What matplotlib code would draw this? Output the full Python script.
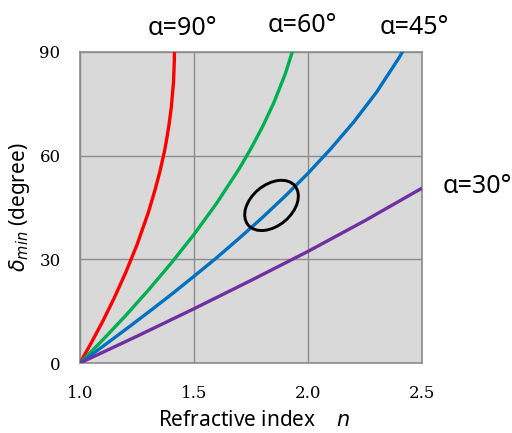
import matplotlib
matplotlib.use("Agg")
import matplotlib.pyplot as plt
from matplotlib.patches import Ellipse
from matplotlib.transforms import ScaledTranslation

# Data (minimum deviation vs refractive index)
n_90 = [1.0, 1.05, 1.1, 1.15, 1.2, 1.25, 1.3, 1.33, 1.35, 1.37, 1.38, 1.39, 1.40, 1.41, 1.414, 1.4142]
d_90 = [0.0, 5.9, 12.1, 18.8, 26.1, 34.2, 43.6, 50.3, 55.3, 61.1, 64.7, 68.8, 73.7, 81.2, 88.0, 90.5]

n_60 = [1.0, 1.1, 1.2, 1.3, 1.4, 1.5, 1.6, 1.7, 1.75, 1.8, 1.85, 1.9, 1.94]
d_60 = [0.0, 6.7, 13.7, 21.1, 28.9, 37.2, 46.3, 56.4, 62.1, 68.3, 75.3, 83.6, 91.9]

n_45 = [1.0, 1.1, 1.2, 1.3, 1.4, 1.5, 1.6, 1.7, 1.8, 1.9, 2.0, 2.1, 2.2, 2.3, 2.4, 2.42]
d_45 = [0.0, 4.8, 9.7, 14.7, 19.8, 25.1, 30.5, 36.2, 42.1, 48.3, 54.9, 62.0, 69.7, 78.3, 88.4, 90.7]

n_30 = [1.0, 1.25, 1.5, 1.75, 2.0, 2.25, 2.5]
d_30 = [0.0, 7.75, 15.7, 23.9, 32.3, 41.2, 50.6]

x_ticks = [1.0, 1.5, 2.0, 2.5]
x_ticklabels = ["1.0", "1.5", "2.0", "2.5"]
y_ticks = [0, 30, 60, 90]
y_ticklabels = ["0", "30", "60", "90"]

curve_labels = ["α=90°", "α=60°", "α=45°", "α=30°"]

fig = plt.figure(figsize=(5.12, 4.33), dpi=100)
ax = fig.add_axes([80/512, 1-363/433, 342/512, 311/433])
ax.set_facecolor("#d9d9d9")

lw = 2.4
ax.plot(n_90, d_90, color="#ff0000", lw=lw, solid_capstyle="butt", zorder=3)
ax.plot(n_60, d_60, color="#00b050", lw=lw, solid_capstyle="butt", zorder=3)
ax.plot(n_45, d_45, color="#0070c0", lw=lw, solid_capstyle="butt", zorder=3)
ax.plot(n_30, d_30, color="#7030a0", lw=lw, solid_capstyle="butt", zorder=3)

ax.set_xlim(1.0, 2.5)
ax.set_ylim(0, 90)
ax.set_xticks(x_ticks)
ax.set_xticklabels(x_ticklabels, family="DejaVu Serif", fontsize=12)
ax.set_yticks(y_ticks)
ax.set_yticklabels(y_ticklabels, family="DejaVu Serif", fontsize=12)
ax.tick_params(length=0)
ax.tick_params(axis="x", pad=16)
ax.tick_params(axis="y", pad=14)
ax.grid(True, color="#8c8c8c", lw=1.0, zorder=1)
ax.set_axisbelow(True)
for s in ax.spines.values():
    s.set_color("#8c8c8c")
    s.set_linewidth(1.2)

# ellipse (sized in inches around a data point)
trans = fig.dpi_scale_trans + ScaledTranslation(1.84, 45.6, ax.transData)
ell = Ellipse((0, 0), 0.61, 0.41, angle=40, transform=trans,
              fill=False, edgecolor="black", lw=2.1, zorder=4)
ax.add_patch(ell)

lab_font = "Noto Sans"
fig.text(182/512, 1-35/433, curve_labels[0], fontsize=18, family=lab_font, ha="center", va="baseline")
fig.text(302/512, 1-32/433, curve_labels[1], fontsize=18, family=lab_font, ha="center", va="baseline")
fig.text(414/512, 1-34/433, curve_labels[2], fontsize=18, family=lab_font, ha="center", va="baseline")
fig.text(477/512, 1-193/433, curve_labels[3], fontsize=18, family=lab_font, ha="center", va="baseline")

fig.text(254/512, 1-426/433, "Refractive index    $n$", fontsize=15, family=lab_font,
         ha="center", va="baseline")
fig.text(20/512, 1-207/433, r"$\delta_{min}$ (degree)", fontsize=15, family=lab_font,
         ha="center", va="center", rotation=90)

fig.savefig("out.png", dpi=100)
